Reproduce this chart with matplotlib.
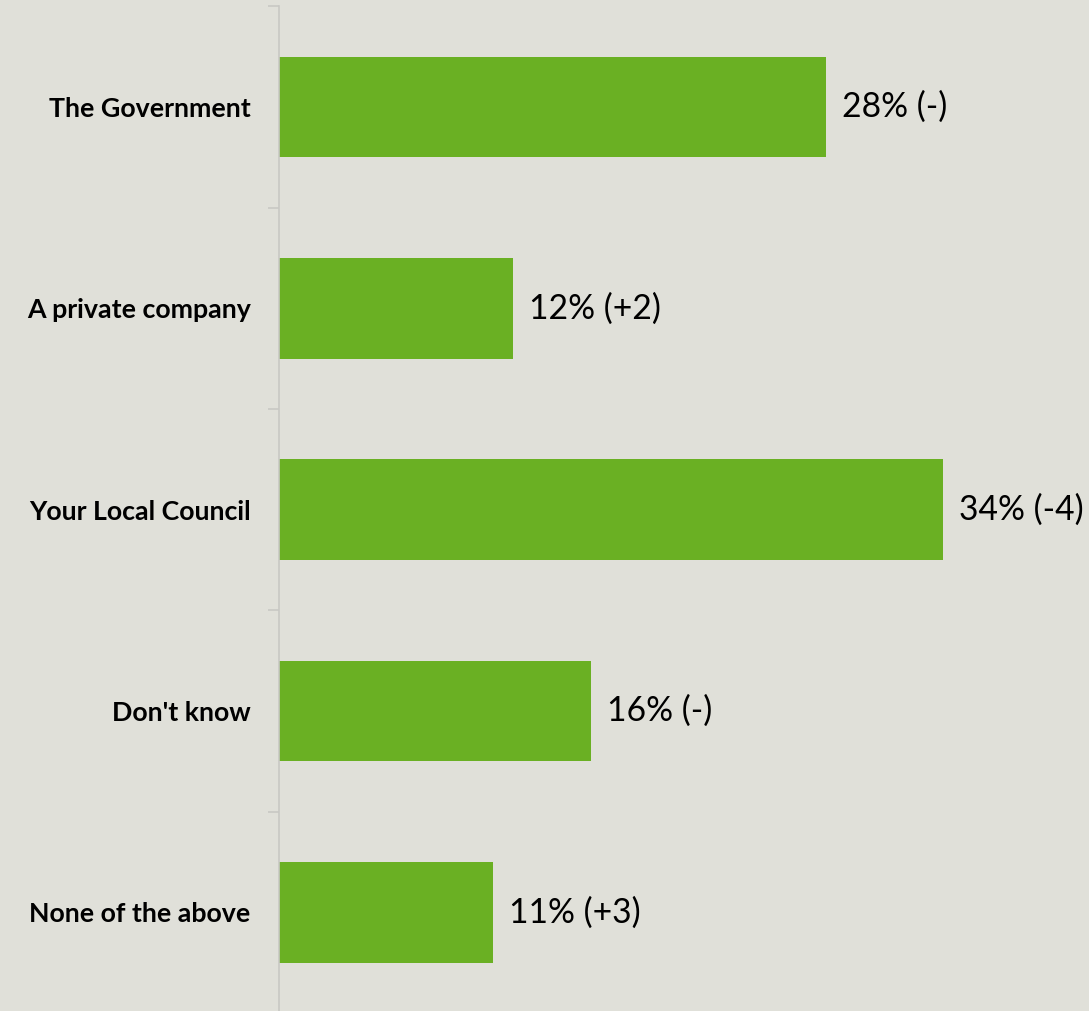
import matplotlib
matplotlib.use("Agg")
import matplotlib.pyplot as plt
import numpy as np

categories = ["The Government", "A private company", "Your Local Council", "Don't know", "None of the above"]
values = [28, 12, 34, 16, 11]
changes = ["(-)", "(+2)", "(-4)", "(-)", "(+3)"]

BG = "#e0e0d9"
GREEN = "#6ab023"
AX = "#c8c8c4"

W, H = 1089, 1011
fig = plt.figure(figsize=(W / 100, H / 100), dpi=100, facecolor=BG)
left = 278.5 / W
top_px, bot_px = 6.5, 1013.0
ax = fig.add_axes([left, 1 - bot_px / H, 1 - left, (bot_px - top_px) / H])
ax.set_facecolor(BG)

n = len(categories)
y = np.arange(n)
ax.barh(y, values, height=0.5, color=GREEN, edgecolor="none")
ax.set_ylim(n - 0.5, -0.5)
ax.set_xlim(0, 810.5 / 19.54)

for yi, v, c in zip(y, values, changes):
    ax.annotate(f"{v}% {c}", (v, yi), xytext=(16, 0), textcoords="offset pixels",
                va="center", ha="left", fontsize=24.2, family="Lato", color="#000000")

for s in ["top", "right", "bottom"]:
    ax.spines[s].set_visible(False)
ax.spines["left"].set_color(AX)
ax.spines["left"].set_linewidth(1.2)
ax.set_xticks([])
ax.set_yticks(np.arange(n + 1) - 0.5, minor=True)
ax.tick_params(axis="y", which="minor", length=8, color=AX, width=1.2)
ax.set_yticks(y)
ax.set_yticklabels(categories, fontsize=19.3, fontweight="bold", family="Lato")
ax.tick_params(axis="y", which="major", length=0, pad=20)

fig.savefig("out.png", dpi=100, facecolor=BG)
